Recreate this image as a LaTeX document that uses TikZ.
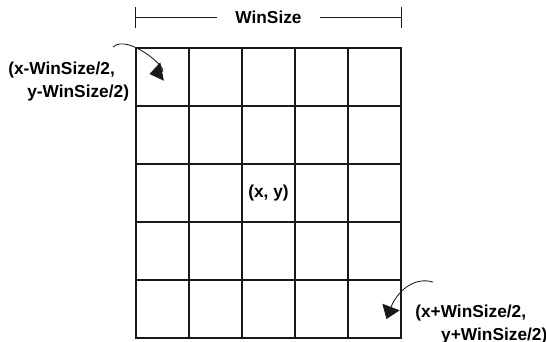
\documentclass[tikz,border=0pt]{standalone}
\usepackage{fontspec}
\setmainfont{Liberation Sans}
\usetikzlibrary{calc,arrows.meta}
\definecolor{wLine}{RGB}{25,25,25}

\begin{document}
\begin{tikzpicture}[x=0.025cm,y=0.025cm]

% ---------------------------------------------------------------- styles
\tikzset{
  cell/.style = {draw=wLine, line width=1.1pt, inner sep=0pt,
                 minimum width=1.325cm, minimum height=1.45cm},
  lbl/.style  = {font=\fontsize{12.3}{16.3}\selectfont\bfseries,
                 inner sep=0pt, align=left, text=black},
  dim/.style  = {draw=wLine, line width=0.9pt,
                 {Bar[width=0.53cm]}-{Bar[width=0.53cm]}},
  hook/.style = {draw=wLine, line width=0.6pt,
                 -{Triangle[length=3.2mm,width=4.6mm]}},
}
\useasboundingbox (0,0) rectangle (546,-342);

% ============================================================ the window
\foreach \c in {0,...,4}
  \foreach \r in {0,...,4}
    \node[cell] (c\c\r) at (162.5+53*\c, -77-58*\r) {};
\node[lbl] (ctr) at (c22) {(x, y)};

% ============================================================== size bar
\coordinate (wl) at ($(c00.north west)+(0,30)$);
\coordinate (wr) at ($(c40.north east)+(0,30)$);
\draw[dim] (wl) -- (wr)
  node[lbl, midway, fill=white, inner xsep=0.45cm] (ws) {WinSize};

% ========================================================= corner labels
% base anchor sits on the last line
\node[lbl, anchor=base west] (lo) at (8,-97)
  {(x-WinSize/2,\\\hspace*{1.1em}y-WinSize/2)};
\node[lbl, anchor=base west] (hi) at (415,-340)
  {(x+WinSize/2,\\\hspace*{1.5em}y+WinSize/2)};

% ------------------------------------------------- pointers into corners
\coordinate (lotail) at (113,-47);
\coordinate (hitail) at (433,-282);
\draw[hook] (lotail) .. controls (128,-33) and (170,-70) .. ($(c00)+(-13,3)$);
\draw[hook] (hitail) .. controls (412,-276) and (396,-294) .. ($(c44)+(12,-10)$);

\end{tikzpicture}
\end{document}
